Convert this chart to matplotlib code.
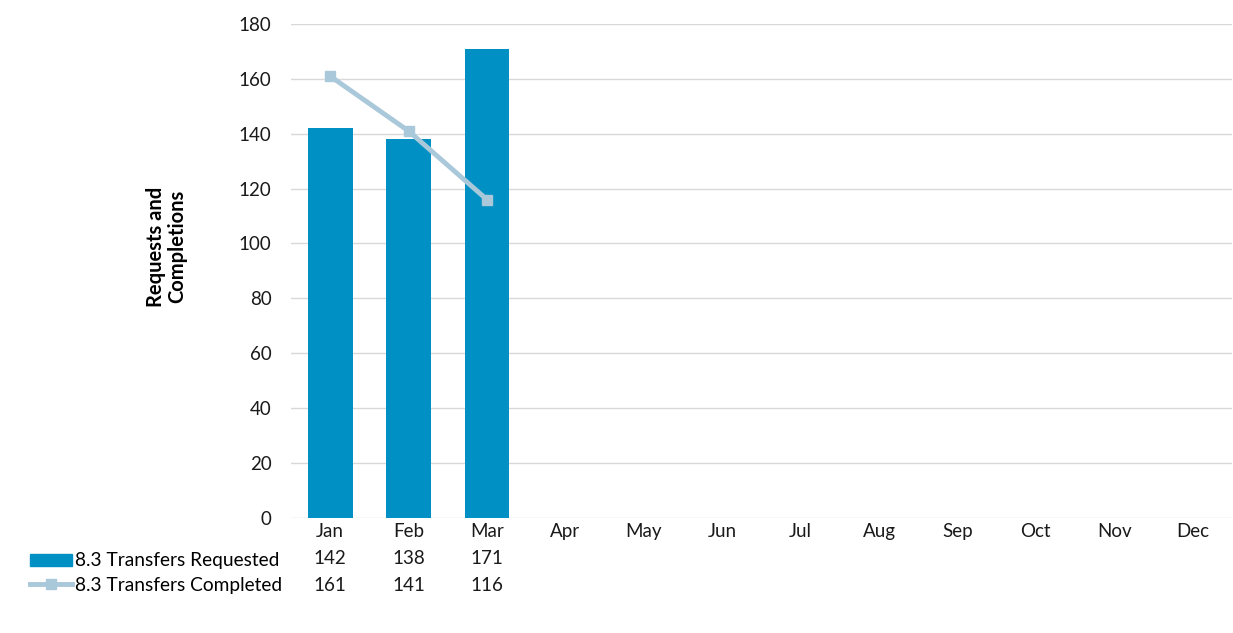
import matplotlib.pyplot as plt
from matplotlib.lines import Line2D
from matplotlib.patches import Patch

months = ['Jan', 'Feb', 'Mar', 'Apr', 'May', 'Jun', 'Jul', 'Aug', 'Sep', 'Oct', 'Nov', 'Dec']
requested = [142, 138, 171]
completed = [161, 141, 116]
series_names = ['8.3 Transfers Requested', '8.3 Transfers Completed']

bar_color = '#0090C4'
line_color = '#A9C8D9'

plt.rcParams['font.family'] = ['Lato', 'DejaVu Sans']

fig = plt.figure(figsize=(12.33, 6.33), dpi=100)
ax = fig.add_axes([0.236, 0.182, 0.763, 0.780])

x = list(range(len(months)))
ax.bar(x[:len(requested)], requested, width=0.57, color=bar_color, zorder=2)
ax.plot(x[:len(completed)], completed, color=line_color, linewidth=3.5,
        marker='s', markersize=7, zorder=3)

ax.set_xlim(-0.5, len(months) - 0.5)
ax.set_ylim(0, 180)
ax.set_yticks(range(0, 181, 20))
ax.yaxis.grid(True, color='#D9D9D9', linewidth=1)
ax.set_axisbelow(True)
for s in ax.spines.values():
    s.set_visible(False)
ax.tick_params(axis='both', length=0, labelsize=13.5, colors='#1a1a1a')
ax.tick_params(axis='y', pad=14)
ax.set_xticks(x)
ax.set_xticklabels(months)
ax.set_ylabel('Requests and\nCompletions', fontsize=14.5, fontweight='bold',
              linespacing=1.1)
ax.yaxis.set_label_coords(-0.11, 0.549)

# data table under the axis
trans = ax.get_xaxis_transform()
rows = [requested, completed]
row_y = [-0.083, -0.138]
for vals, yy in zip(rows, row_y):
    for i, v in enumerate(vals):
        ax.text(i, yy, str(v), transform=trans, ha='center', va='center',
                fontsize=13.5, color='#1a1a1a')

handles = [Patch(color=bar_color),
           Line2D([0], [0], color=line_color, linewidth=3.5, marker='s', markersize=7)]
leg = fig.legend(handles, series_names, loc='upper left',
                 bbox_to_anchor=(0.018, 0.14), frameon=False, fontsize=13.8,
                 handlelength=2.2, handletextpad=0.15, labelspacing=0.42,
                 borderaxespad=0)
leg.legend_handles[0].set_height(9)

fig.savefig('out.png', dpi=100)
